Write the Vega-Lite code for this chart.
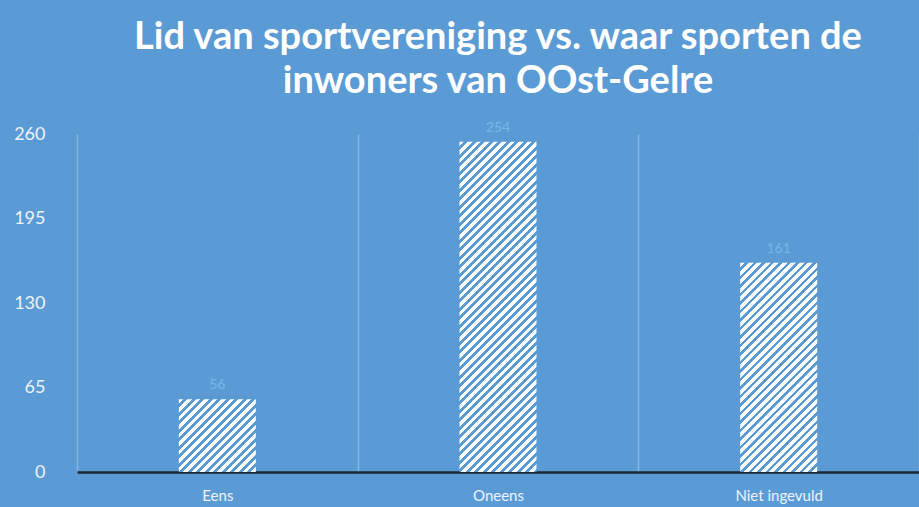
{
  "$schema": "https://vega.github.io/schema/vega-lite/v6.json",
  "autosize": {"type": "none"},
  "padding": {"left": 77, "top": 134, "right": 0, "bottom": 35},
  "width": 842,
  "height": 338,
  "background": "#5b9bd5",
  "config": {"view": {"stroke": null}, "font": "Lato"},
  "title": {
    "text": ["Lid van sportvereniging vs. waar sporten de", "inwoners van OOst-Gelre"],
    "font": "Lato",
    "fontSize": 38,
    "fontWeight": "bold",
    "color": "#ffffff",
    "lineHeight": 44,
    "anchor": "middle",
    "frame": "group",
    "offset": 20
  },
  "data": {"values": [
    {"cat": "Eens", "n": 56},
    {"cat": "Oneens", "n": 254},
    {"cat": "Niet ingevuld", "n": 161}
  ]},
  "encoding": {
    "x": {
      "field": "cat", "type": "nominal", "sort": null,
      "scale": {"paddingInner": 0, "paddingOuter": 0, "round": false},
      "axis": {
        "title": null, "labelAngle": 0, "labelFont": "Lato", "labelFontSize": 15,
        "labelColor": "#eef3fa", "labelPadding": 16, "ticks": false, "tickSize": 0,
        "domainColor": "#1c2633", "domainWidth": 2.5,
        "grid": true, "gridColor": "#84b4df", "gridWidth": 1.5, "tickBand": "extent"
      }
    },
    "y": {
      "field": "n", "type": "quantitative",
      "scale": {"domain": [0, 260], "nice": false},
      "axis": {
        "title": null, "grid": false, "domain": false, "ticks": false, "tickSize": 0,
        "values": [0, 65, 130, 195, 260], "labelFont": "Lato", "labelFontSize": 18,
        "labelColor": "#eef3fa", "labelPadding": 32
      }
    }
  },
  "layer": [
    {
      "transform": [{"filter": "datum.cat === 'Eens'"}],
      "mark": {"type": "bar", "width": {"band": 0.2743}, "fill": {"gradient": "linear", "x1": 0, "y1": 0, "x2": 2.9144, "y2": 2.7554, "stops": [
{"offset":0,"color":"#fff"},{"offset":0.011,"color":"#fff"},{"offset":0.011,"color":"#5b9bd5"},{"offset":0.02,"color":"#5b9bd5"},
{"offset":0.02,"color":"#fff"},{"offset":0.031,"color":"#fff"},{"offset":0.031,"color":"#5b9bd5"},{"offset":0.04,"color":"#5b9bd5"},
{"offset":0.04,"color":"#fff"},{"offset":0.051,"color":"#fff"},{"offset":0.051,"color":"#5b9bd5"},{"offset":0.06,"color":"#5b9bd5"},
{"offset":0.06,"color":"#fff"},{"offset":0.071,"color":"#fff"},{"offset":0.071,"color":"#5b9bd5"},{"offset":0.08,"color":"#5b9bd5"},
{"offset":0.08,"color":"#fff"},{"offset":0.091,"color":"#fff"},{"offset":0.091,"color":"#5b9bd5"},{"offset":0.1,"color":"#5b9bd5"},
{"offset":0.1,"color":"#fff"},{"offset":0.111,"color":"#fff"},{"offset":0.111,"color":"#5b9bd5"},{"offset":0.12,"color":"#5b9bd5"},
{"offset":0.12,"color":"#fff"},{"offset":0.131,"color":"#fff"},{"offset":0.131,"color":"#5b9bd5"},{"offset":0.14,"color":"#5b9bd5"},
{"offset":0.14,"color":"#fff"},{"offset":0.151,"color":"#fff"},{"offset":0.151,"color":"#5b9bd5"},{"offset":0.16,"color":"#5b9bd5"},
{"offset":0.16,"color":"#fff"},{"offset":0.171,"color":"#fff"},{"offset":0.171,"color":"#5b9bd5"},{"offset":0.18,"color":"#5b9bd5"},
{"offset":0.18,"color":"#fff"},{"offset":0.191,"color":"#fff"},{"offset":0.191,"color":"#5b9bd5"},{"offset":0.2,"color":"#5b9bd5"},
{"offset":0.2,"color":"#fff"},{"offset":0.211,"color":"#fff"},{"offset":0.211,"color":"#5b9bd5"},{"offset":0.22,"color":"#5b9bd5"},
{"offset":0.22,"color":"#fff"},{"offset":0.231,"color":"#fff"},{"offset":0.231,"color":"#5b9bd5"},{"offset":0.24,"color":"#5b9bd5"},
{"offset":0.24,"color":"#fff"},{"offset":0.251,"color":"#fff"},{"offset":0.251,"color":"#5b9bd5"},{"offset":0.26,"color":"#5b9bd5"},
{"offset":0.26,"color":"#fff"},{"offset":0.271,"color":"#fff"},{"offset":0.271,"color":"#5b9bd5"},{"offset":0.28,"color":"#5b9bd5"},
{"offset":0.28,"color":"#fff"},{"offset":0.291,"color":"#fff"},{"offset":0.291,"color":"#5b9bd5"},{"offset":0.3,"color":"#5b9bd5"},
{"offset":0.3,"color":"#fff"},{"offset":0.311,"color":"#fff"},{"offset":0.311,"color":"#5b9bd5"},{"offset":0.32,"color":"#5b9bd5"},
{"offset":0.32,"color":"#fff"},{"offset":0.331,"color":"#fff"},{"offset":0.331,"color":"#5b9bd5"},{"offset":0.34,"color":"#5b9bd5"},
{"offset":0.34,"color":"#fff"},{"offset":0.351,"color":"#fff"},{"offset":0.351,"color":"#5b9bd5"},{"offset":0.36,"color":"#5b9bd5"}
      ]}}
    },
    {
      "transform": [{"filter": "datum.cat === 'Oneens'"}],
      "mark": {"type": "bar", "width": {"band": 0.2743}, "fill": {"gradient": "linear", "x1": 0, "y1": 0, "x2": 0.28466, "y2": 1.22072, "stops": [
{"offset":0,"color":"#fff"},{"offset":0.011,"color":"#fff"},{"offset":0.011,"color":"#5b9bd5"},{"offset":0.02,"color":"#5b9bd5"},
{"offset":0.02,"color":"#fff"},{"offset":0.031,"color":"#fff"},{"offset":0.031,"color":"#5b9bd5"},{"offset":0.04,"color":"#5b9bd5"},
{"offset":0.04,"color":"#fff"},{"offset":0.051,"color":"#fff"},{"offset":0.051,"color":"#5b9bd5"},{"offset":0.06,"color":"#5b9bd5"},
{"offset":0.06,"color":"#fff"},{"offset":0.071,"color":"#fff"},{"offset":0.071,"color":"#5b9bd5"},{"offset":0.08,"color":"#5b9bd5"},
{"offset":0.08,"color":"#fff"},{"offset":0.091,"color":"#fff"},{"offset":0.091,"color":"#5b9bd5"},{"offset":0.1,"color":"#5b9bd5"},
{"offset":0.1,"color":"#fff"},{"offset":0.111,"color":"#fff"},{"offset":0.111,"color":"#5b9bd5"},{"offset":0.12,"color":"#5b9bd5"},
{"offset":0.12,"color":"#fff"},{"offset":0.131,"color":"#fff"},{"offset":0.131,"color":"#5b9bd5"},{"offset":0.14,"color":"#5b9bd5"},
{"offset":0.14,"color":"#fff"},{"offset":0.151,"color":"#fff"},{"offset":0.151,"color":"#5b9bd5"},{"offset":0.16,"color":"#5b9bd5"},
{"offset":0.16,"color":"#fff"},{"offset":0.171,"color":"#fff"},{"offset":0.171,"color":"#5b9bd5"},{"offset":0.18,"color":"#5b9bd5"},
{"offset":0.18,"color":"#fff"},{"offset":0.191,"color":"#fff"},{"offset":0.191,"color":"#5b9bd5"},{"offset":0.2,"color":"#5b9bd5"},
{"offset":0.2,"color":"#fff"},{"offset":0.211,"color":"#fff"},{"offset":0.211,"color":"#5b9bd5"},{"offset":0.22,"color":"#5b9bd5"},
{"offset":0.22,"color":"#fff"},{"offset":0.231,"color":"#fff"},{"offset":0.231,"color":"#5b9bd5"},{"offset":0.24,"color":"#5b9bd5"},
{"offset":0.24,"color":"#fff"},{"offset":0.251,"color":"#fff"},{"offset":0.251,"color":"#5b9bd5"},{"offset":0.26,"color":"#5b9bd5"},
{"offset":0.26,"color":"#fff"},{"offset":0.271,"color":"#fff"},{"offset":0.271,"color":"#5b9bd5"},{"offset":0.28,"color":"#5b9bd5"},
{"offset":0.28,"color":"#fff"},{"offset":0.291,"color":"#fff"},{"offset":0.291,"color":"#5b9bd5"},{"offset":0.3,"color":"#5b9bd5"},
{"offset":0.3,"color":"#fff"},{"offset":0.311,"color":"#fff"},{"offset":0.311,"color":"#5b9bd5"},{"offset":0.32,"color":"#5b9bd5"},
{"offset":0.32,"color":"#fff"},{"offset":0.331,"color":"#fff"},{"offset":0.331,"color":"#5b9bd5"},{"offset":0.34,"color":"#5b9bd5"},
{"offset":0.34,"color":"#fff"},{"offset":0.351,"color":"#fff"},{"offset":0.351,"color":"#5b9bd5"},{"offset":0.36,"color":"#5b9bd5"},
{"offset":0.36,"color":"#fff"},{"offset":0.371,"color":"#fff"},{"offset":0.371,"color":"#5b9bd5"},{"offset":0.38,"color":"#5b9bd5"},
{"offset":0.38,"color":"#fff"},{"offset":0.391,"color":"#fff"},{"offset":0.391,"color":"#5b9bd5"},{"offset":0.4,"color":"#5b9bd5"},
{"offset":0.4,"color":"#fff"},{"offset":0.411,"color":"#fff"},{"offset":0.411,"color":"#5b9bd5"},{"offset":0.42,"color":"#5b9bd5"},
{"offset":0.42,"color":"#fff"},{"offset":0.431,"color":"#fff"},{"offset":0.431,"color":"#5b9bd5"},{"offset":0.44,"color":"#5b9bd5"},
{"offset":0.44,"color":"#fff"},{"offset":0.451,"color":"#fff"},{"offset":0.451,"color":"#5b9bd5"},{"offset":0.46,"color":"#5b9bd5"},
{"offset":0.46,"color":"#fff"},{"offset":0.471,"color":"#fff"},{"offset":0.471,"color":"#5b9bd5"},{"offset":0.48,"color":"#5b9bd5"},
{"offset":0.48,"color":"#fff"},{"offset":0.491,"color":"#fff"},{"offset":0.491,"color":"#5b9bd5"},{"offset":0.5,"color":"#5b9bd5"},
{"offset":0.5,"color":"#fff"},{"offset":0.511,"color":"#fff"},{"offset":0.511,"color":"#5b9bd5"},{"offset":0.52,"color":"#5b9bd5"},
{"offset":0.52,"color":"#fff"},{"offset":0.531,"color":"#fff"},{"offset":0.531,"color":"#5b9bd5"},{"offset":0.54,"color":"#5b9bd5"},
{"offset":0.54,"color":"#fff"},{"offset":0.551,"color":"#fff"},{"offset":0.551,"color":"#5b9bd5"},{"offset":0.56,"color":"#5b9bd5"},
{"offset":0.56,"color":"#fff"},{"offset":0.571,"color":"#fff"},{"offset":0.571,"color":"#5b9bd5"},{"offset":0.58,"color":"#5b9bd5"},
{"offset":0.58,"color":"#fff"},{"offset":0.591,"color":"#fff"},{"offset":0.591,"color":"#5b9bd5"},{"offset":0.6,"color":"#5b9bd5"},
{"offset":0.6,"color":"#fff"},{"offset":0.611,"color":"#fff"},{"offset":0.611,"color":"#5b9bd5"},{"offset":0.62,"color":"#5b9bd5"},
{"offset":0.62,"color":"#fff"},{"offset":0.631,"color":"#fff"},{"offset":0.631,"color":"#5b9bd5"},{"offset":0.64,"color":"#5b9bd5"},
{"offset":0.64,"color":"#fff"},{"offset":0.651,"color":"#fff"},{"offset":0.651,"color":"#5b9bd5"},{"offset":0.66,"color":"#5b9bd5"},
{"offset":0.66,"color":"#fff"},{"offset":0.671,"color":"#fff"},{"offset":0.671,"color":"#5b9bd5"},{"offset":0.68,"color":"#5b9bd5"},
{"offset":0.68,"color":"#fff"},{"offset":0.691,"color":"#fff"},{"offset":0.691,"color":"#5b9bd5"},{"offset":0.7,"color":"#5b9bd5"},
{"offset":0.7,"color":"#fff"},{"offset":0.711,"color":"#fff"},{"offset":0.711,"color":"#5b9bd5"},{"offset":0.72,"color":"#5b9bd5"},
{"offset":0.72,"color":"#fff"},{"offset":0.731,"color":"#fff"},{"offset":0.731,"color":"#5b9bd5"},{"offset":0.74,"color":"#5b9bd5"},
{"offset":0.74,"color":"#fff"},{"offset":0.751,"color":"#fff"},{"offset":0.751,"color":"#5b9bd5"},{"offset":0.76,"color":"#5b9bd5"},
{"offset":0.76,"color":"#fff"},{"offset":0.771,"color":"#fff"},{"offset":0.771,"color":"#5b9bd5"},{"offset":0.78,"color":"#5b9bd5"},
{"offset":0.78,"color":"#fff"},{"offset":0.791,"color":"#fff"},{"offset":0.791,"color":"#5b9bd5"},{"offset":0.8,"color":"#5b9bd5"},
{"offset":0.8,"color":"#fff"},{"offset":0.811,"color":"#fff"},{"offset":0.811,"color":"#5b9bd5"},{"offset":0.82,"color":"#5b9bd5"},
{"offset":0.82,"color":"#fff"},{"offset":0.831,"color":"#fff"},{"offset":0.831,"color":"#5b9bd5"},{"offset":0.84,"color":"#5b9bd5"},
{"offset":0.84,"color":"#fff"},{"offset":0.851,"color":"#fff"},{"offset":0.851,"color":"#5b9bd5"},{"offset":0.86,"color":"#5b9bd5"},
{"offset":0.86,"color":"#fff"},{"offset":0.871,"color":"#fff"},{"offset":0.871,"color":"#5b9bd5"},{"offset":0.88,"color":"#5b9bd5"},
{"offset":0.88,"color":"#fff"},{"offset":0.891,"color":"#fff"},{"offset":0.891,"color":"#5b9bd5"},{"offset":0.9,"color":"#5b9bd5"},
{"offset":0.9,"color":"#fff"},{"offset":0.911,"color":"#fff"},{"offset":0.911,"color":"#5b9bd5"},{"offset":0.92,"color":"#5b9bd5"},
{"offset":0.92,"color":"#fff"},{"offset":0.931,"color":"#fff"},{"offset":0.931,"color":"#5b9bd5"},{"offset":0.94,"color":"#5b9bd5"},
{"offset":0.94,"color":"#fff"},{"offset":0.951,"color":"#fff"},{"offset":0.951,"color":"#5b9bd5"},{"offset":0.96,"color":"#5b9bd5"}
      ]}}
    },
    {
      "transform": [{"filter": "datum.cat === 'Niet ingevuld'"}],
      "mark": {"type": "bar", "width": {"band": 0.2743}, "fill": {"gradient": "linear", "x1": 0, "y1": 0, "x2": 0.65798, "y2": 1.78851, "stops": [
{"offset":0,"color":"#fff"},{"offset":0.011,"color":"#fff"},{"offset":0.011,"color":"#5b9bd5"},{"offset":0.02,"color":"#5b9bd5"},
{"offset":0.02,"color":"#fff"},{"offset":0.031,"color":"#fff"},{"offset":0.031,"color":"#5b9bd5"},{"offset":0.04,"color":"#5b9bd5"},
{"offset":0.04,"color":"#fff"},{"offset":0.051,"color":"#fff"},{"offset":0.051,"color":"#5b9bd5"},{"offset":0.06,"color":"#5b9bd5"},
{"offset":0.06,"color":"#fff"},{"offset":0.071,"color":"#fff"},{"offset":0.071,"color":"#5b9bd5"},{"offset":0.08,"color":"#5b9bd5"},
{"offset":0.08,"color":"#fff"},{"offset":0.091,"color":"#fff"},{"offset":0.091,"color":"#5b9bd5"},{"offset":0.1,"color":"#5b9bd5"},
{"offset":0.1,"color":"#fff"},{"offset":0.111,"color":"#fff"},{"offset":0.111,"color":"#5b9bd5"},{"offset":0.12,"color":"#5b9bd5"},
{"offset":0.12,"color":"#fff"},{"offset":0.131,"color":"#fff"},{"offset":0.131,"color":"#5b9bd5"},{"offset":0.14,"color":"#5b9bd5"},
{"offset":0.14,"color":"#fff"},{"offset":0.151,"color":"#fff"},{"offset":0.151,"color":"#5b9bd5"},{"offset":0.16,"color":"#5b9bd5"},
{"offset":0.16,"color":"#fff"},{"offset":0.171,"color":"#fff"},{"offset":0.171,"color":"#5b9bd5"},{"offset":0.18,"color":"#5b9bd5"},
{"offset":0.18,"color":"#fff"},{"offset":0.191,"color":"#fff"},{"offset":0.191,"color":"#5b9bd5"},{"offset":0.2,"color":"#5b9bd5"},
{"offset":0.2,"color":"#fff"},{"offset":0.211,"color":"#fff"},{"offset":0.211,"color":"#5b9bd5"},{"offset":0.22,"color":"#5b9bd5"},
{"offset":0.22,"color":"#fff"},{"offset":0.231,"color":"#fff"},{"offset":0.231,"color":"#5b9bd5"},{"offset":0.24,"color":"#5b9bd5"},
{"offset":0.24,"color":"#fff"},{"offset":0.251,"color":"#fff"},{"offset":0.251,"color":"#5b9bd5"},{"offset":0.26,"color":"#5b9bd5"},
{"offset":0.26,"color":"#fff"},{"offset":0.271,"color":"#fff"},{"offset":0.271,"color":"#5b9bd5"},{"offset":0.28,"color":"#5b9bd5"},
{"offset":0.28,"color":"#fff"},{"offset":0.291,"color":"#fff"},{"offset":0.291,"color":"#5b9bd5"},{"offset":0.3,"color":"#5b9bd5"},
{"offset":0.3,"color":"#fff"},{"offset":0.311,"color":"#fff"},{"offset":0.311,"color":"#5b9bd5"},{"offset":0.32,"color":"#5b9bd5"},
{"offset":0.32,"color":"#fff"},{"offset":0.331,"color":"#fff"},{"offset":0.331,"color":"#5b9bd5"},{"offset":0.34,"color":"#5b9bd5"},
{"offset":0.34,"color":"#fff"},{"offset":0.351,"color":"#fff"},{"offset":0.351,"color":"#5b9bd5"},{"offset":0.36,"color":"#5b9bd5"},
{"offset":0.36,"color":"#fff"},{"offset":0.371,"color":"#fff"},{"offset":0.371,"color":"#5b9bd5"},{"offset":0.38,"color":"#5b9bd5"},
{"offset":0.38,"color":"#fff"},{"offset":0.391,"color":"#fff"},{"offset":0.391,"color":"#5b9bd5"},{"offset":0.4,"color":"#5b9bd5"},
{"offset":0.4,"color":"#fff"},{"offset":0.411,"color":"#fff"},{"offset":0.411,"color":"#5b9bd5"},{"offset":0.42,"color":"#5b9bd5"},
{"offset":0.42,"color":"#fff"},{"offset":0.431,"color":"#fff"},{"offset":0.431,"color":"#5b9bd5"},{"offset":0.44,"color":"#5b9bd5"},
{"offset":0.44,"color":"#fff"},{"offset":0.451,"color":"#fff"},{"offset":0.451,"color":"#5b9bd5"},{"offset":0.46,"color":"#5b9bd5"},
{"offset":0.46,"color":"#fff"},{"offset":0.471,"color":"#fff"},{"offset":0.471,"color":"#5b9bd5"},{"offset":0.48,"color":"#5b9bd5"},
{"offset":0.48,"color":"#fff"},{"offset":0.491,"color":"#fff"},{"offset":0.491,"color":"#5b9bd5"},{"offset":0.5,"color":"#5b9bd5"},
{"offset":0.5,"color":"#fff"},{"offset":0.511,"color":"#fff"},{"offset":0.511,"color":"#5b9bd5"},{"offset":0.52,"color":"#5b9bd5"},
{"offset":0.52,"color":"#fff"},{"offset":0.531,"color":"#fff"},{"offset":0.531,"color":"#5b9bd5"},{"offset":0.54,"color":"#5b9bd5"},
{"offset":0.54,"color":"#fff"},{"offset":0.551,"color":"#fff"},{"offset":0.551,"color":"#5b9bd5"},{"offset":0.56,"color":"#5b9bd5"},
{"offset":0.56,"color":"#fff"},{"offset":0.571,"color":"#fff"},{"offset":0.571,"color":"#5b9bd5"},{"offset":0.58,"color":"#5b9bd5"},
{"offset":0.58,"color":"#fff"},{"offset":0.591,"color":"#fff"},{"offset":0.591,"color":"#5b9bd5"},{"offset":0.6,"color":"#5b9bd5"},
{"offset":0.6,"color":"#fff"},{"offset":0.611,"color":"#fff"},{"offset":0.611,"color":"#5b9bd5"},{"offset":0.62,"color":"#5b9bd5"},
{"offset":0.62,"color":"#fff"},{"offset":0.631,"color":"#fff"},{"offset":0.631,"color":"#5b9bd5"},{"offset":0.64,"color":"#5b9bd5"},
{"offset":0.64,"color":"#fff"},{"offset":0.651,"color":"#fff"},{"offset":0.651,"color":"#5b9bd5"},{"offset":0.66,"color":"#5b9bd5"},
{"offset":0.66,"color":"#fff"},{"offset":0.671,"color":"#fff"},{"offset":0.671,"color":"#5b9bd5"},{"offset":0.68,"color":"#5b9bd5"}
      ]}}
    },
    {
      "mark": {"type": "text", "dy": -14, "font": "Lato", "fontSize": 14, "color": "#76b9ea"},
      "encoding": {"text": {"field": "n", "type": "quantitative"}}
    }
  ]
}
